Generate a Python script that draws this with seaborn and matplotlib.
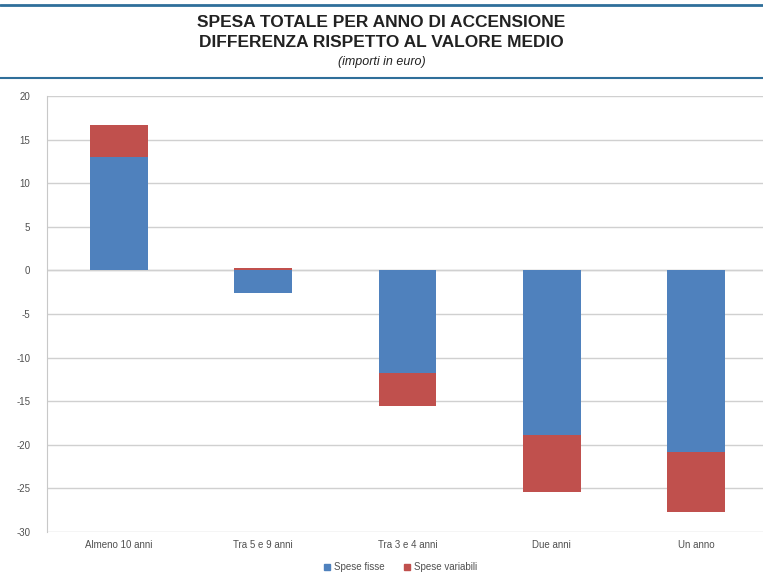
import numpy as np
import pandas as pd
import matplotlib
matplotlib.use("Agg")
import matplotlib.pyplot as plt
import seaborn as sns
from matplotlib.lines import Line2D
from matplotlib.patches import Patch

# ------------------------DATA-------------------------
categorie = ["Almeno 10 anni", "Tra 5 e 9 anni", "Tra 3 e 4 anni", "Due anni", "Un anno"]
spese_fisse = [13.0, -2.6, -11.75, -18.9, -20.8]
spese_variabili = [3.7, 0.25, -3.8, -6.5, -6.9]

blu = "#4F81BD"
rosso = "#C0504D"

# variable costs stacked on the fixed part when same sign, otherwise from zero
fisse = np.array(spese_fisse)
var = np.array(spese_variabili)
esterno = np.where(np.sign(fisse) == np.sign(var), fisse + var, var)

df = pd.DataFrame({"categoria": categorie, "fisse": fisse, "esterno": esterno})

sns.set_style("white")
plt.rcParams["font.family"] = ["Liberation Sans", "DejaVu Sans"]
plt.rcParams["axes.unicode_minus"] = False

fig = plt.figure(figsize=(7.63, 5.73), dpi=100)
ax = fig.add_axes([0.0616, 0.0716, 0.945, 0.761])

sns.barplot(data=df, x="categoria", y="esterno", color=rosso, saturation=1,
            width=0.4, linewidth=0, ax=ax, zorder=3)
sns.barplot(data=df, x="categoria", y="fisse", color=blu, saturation=1,
            width=0.4, linewidth=0, ax=ax, zorder=3)

ax.set_ylim(-30, 20)
ax.set_yticks(range(-30, 21, 5))
ax.set_xlabel("")
ax.set_ylabel("")
ax.grid(axis="y", color="#d0d0d0", linewidth=1, zorder=0)
ax.axhline(0, color="#d0d0d0", linewidth=1, zorder=1)
for s in ["top", "right", "bottom"]:
    ax.spines[s].set_visible(False)
ax.spines["left"].set_color("#c8c8c8")
ax.tick_params(axis="both", length=0, labelsize=7, colors="#505050", pad=12)
ax.tick_params(axis="x", pad=6)

# ------------------------TITLE-------------------------
fig.text(0.5, 0.960, "SPESA TOTALE PER ANNO DI ACCENSIONE", ha="center", va="center",
         fontsize=12.5, fontweight="bold", color="#222222")
fig.text(0.5, 0.925, "DIFFERENZA RISPETTO AL VALORE MEDIO", ha="center", va="center",
         fontsize=12.5, fontweight="bold", color="#222222")
fig.text(0.5, 0.892, "(importi in euro)", ha="center", va="center",
         fontsize=9, style="italic", color="#222222")
fig.add_artist(Line2D([0, 1], [0.991, 0.991], color="#2f6f9a", linewidth=2))
fig.add_artist(Line2D([0, 1], [0.864, 0.864], color="#2f6f9a", linewidth=1.5))

# ------------------------LEGEND-------------------------
handles = [Patch(color=blu, label="Spese fisse"), Patch(color=rosso, label="Spese variabili")]
fig.legend(handles=handles, loc="center", bbox_to_anchor=(0.525, 0.01), ncol=2,
           frameon=False, fontsize=7, handlelength=0.6, handleheight=0.6,
           columnspacing=2.0, handletextpad=0.4, labelcolor="#505050")

fig.savefig("out.png", dpi=100)
